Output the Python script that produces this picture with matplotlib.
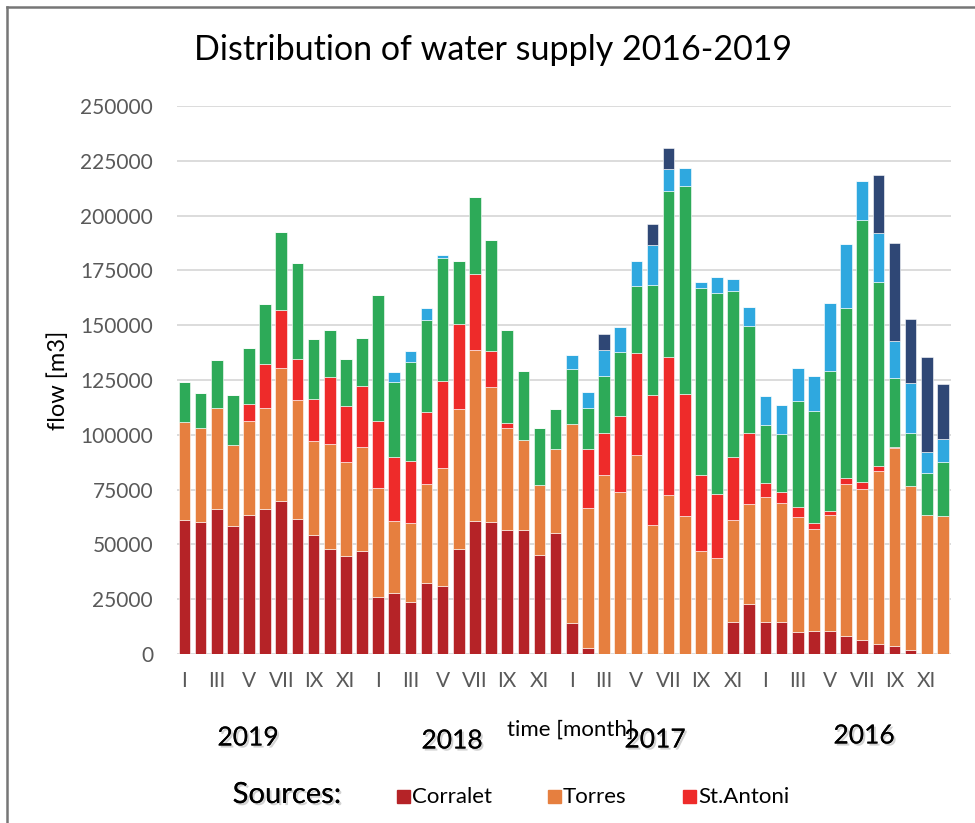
import matplotlib.pyplot as plt
import matplotlib.patheffects as pe
from matplotlib.lines import Line2D
from matplotlib.patches import Rectangle
import numpy as np

plt.rcParams['font.family'] = ['Lato', 'DejaVu Sans']

years = ['2019', '2018', '2017', '2016']
months = ['I', 'II', 'III', 'IV', 'V', 'VI', 'VII', 'VIII', 'IX', 'X', 'XI', 'XII']

# monthly flow per source [m3], years in plotted order 2019, 2018, 2017, 2016
corralet = [61000, 60000, 66000, 58300, 63200, 66000, 70000, 61400, 54100, 47700, 44700, 47100,
            26100, 28000, 23600, 32600, 31100, 47700, 60900, 60400, 56400, 56400, 45000, 55400,
            14200, 2800, 0, 0, 0, 0, 0, 0, 0, 0, 14700, 22800,
            14400, 14400, 10200, 10500, 10600, 8100, 6500, 4400, 3800, 1700, 0, 0]
torres = [45000, 43000, 46100, 37100, 43300, 46400, 60600, 54500, 42900, 48200, 42700, 47400,
          49500, 32900, 36200, 44800, 53700, 64000, 77700, 61600, 46600, 41300, 32300, 38200,
          90800, 63900, 81600, 74100, 90800, 58700, 72500, 63100, 47100, 43900, 46500, 45800,
          57300, 54600, 52400, 46700, 52900, 69300, 68700, 78900, 90000, 74900, 63400, 63100]
st_antoni = [0, 0, 0, 0, 7400, 19700, 26400, 18900, 19400, 30300, 25800, 27800,
             30800, 28900, 28100, 33200, 39700, 38700, 34900, 16300, 2400, 0, 0, 0,
             0, 26700, 19400, 34300, 46300, 59600, 63200, 55700, 34500, 29100, 28900, 32000,
             6300, 5000, 4400, 2500, 1900, 3000, 3100, 2400, 700, 0, 0, 0]
source4 = [18000, 16200, 22000, 22800, 25900, 27700, 35300, 43500, 27500, 21700, 21500, 21900,
           57200, 34400, 45100, 41700, 56100, 28700, 35100, 50600, 42200, 31200, 26000, 18200,
           25100, 18600, 25600, 29200, 30900, 50200, 75300, 94900, 85500, 91900, 75600, 49200,
           26400, 26300, 48400, 51100, 63600, 77400, 119600, 84200, 31200, 24000, 19000, 24500]
source5 = [0, 0, 0, 0, 0, 0, 0, 0, 0, 0, 0, 0,
           0, 4400, 5200, 5600, 1200, 0, 0, 0, 0, 0, 0, 0,
           6400, 7400, 12300, 11500, 11200, 18100, 10200, 7800, 2500, 7100, 5200, 8700,
           13200, 13200, 15200, 16100, 31100, 29200, 17900, 22200, 17200, 23000, 9900, 10600]
source6 = [0, 0, 0, 0, 0, 0, 0, 0, 0, 0, 0, 0,
           0, 0, 0, 0, 0, 0, 0, 0, 0, 0, 0, 0,
           0, 0, 7000, 0, 0, 9400, 9800, 0, 0, 0, 0, 0,
           0, 0, 0, 0, 0, 0, 0, 26600, 44700, 29200, 43300, 24800]

series = [corralet, torres, st_antoni, source4, source5, source6]
colors = ['#B52327', '#E67F3F', '#EE2B2A', '#2DAA58', '#2FA8DF', '#2F4775']

fig = plt.figure(figsize=(9.75, 8.23), dpi=100)
ax = fig.add_axes([176.7 / 975, 1 - 654 / 823, 774 / 975, 548 / 823])

x = np.arange(len(corralet))
bottom = np.zeros(len(corralet))
for s, c in zip(series, colors):
    ax.bar(x, s, width=0.72, bottom=bottom, color=c, edgecolor='white', linewidth=0.4, zorder=3)
    bottom += np.array(s)

ax.set_xlim(-0.48, 47.48)
ax.set_ylim(0, 250000)
ax.set_yticks(range(0, 250001, 25000))
ax.set_yticklabels([str(v) for v in range(0, 250001, 25000)])
ax.set_xticks(x[::2])
ax.set_xticklabels(months[::2] * 4)
ax.grid(axis='y', color='#D9D9D9', linewidth=1.3, zorder=0)
for sp in ax.spines.values():
    sp.set_visible(False)
ax.tick_params(axis='both', length=0, colors='#595959', labelsize=15)
ax.tick_params(axis='y', pad=17)
ax.tick_params(axis='x', pad=12)
ax.set_ylabel('flow [m3]', fontsize=17, color='black', labelpad=8)

fig.text(0.506, 1 - 50 / 823, 'Distribution of water supply 2016-2019', ha='center', va='center',
         fontsize=24.5, color='black')

shadow = [pe.withSimplePatchShadow(offset=(1.5, -1.5), alpha=0.35, shadow_rgbFace='gray'), pe.Normal()]
year_x = [248, 452, 655, 864]
year_y = [738, 741, 740, 736]
for yr, xx, yy in zip(years, year_x, year_y):
    fig.text(xx / 975, 1 - yy / 823, yr, ha='center', va='center', fontsize=19,
             color='black', path_effects=shadow)
fig.text(570 / 975, 1 - 730 / 823, 'time [month]', ha='center', va='center', fontsize=16, color='black')

fig.text(287 / 975, 1 - 795 / 823, 'Sources:', ha='center', va='center', fontsize=21,
         color='black', path_effects=shadow)
leg_names = ['Corralet', 'Torres', 'St.Antoni']
leg_x = [397, 548, 683]
for name, c, lx in zip(leg_names, colors[:3], leg_x):
    fig.patches.append(Rectangle((lx / 975, 1 - 803 / 823), 13 / 975, 13 / 823,
                                 transform=fig.transFigure, color=c))
    fig.text((lx + 15) / 975, 1 - 797 / 823, name, ha='left', va='center', fontsize=16, color='black')

# chart frame, cut off at right and bottom
fig.lines.append(Line2D([7 / 975, 7 / 975], [-0.1, 1 - 7 / 823], transform=fig.transFigure,
                        color='#767676', linewidth=1.8))
fig.lines.append(Line2D([7 / 975, 1.1], [1 - 7 / 823, 1 - 7 / 823], transform=fig.transFigure,
                        color='#767676', linewidth=1.8))

fig.savefig('out.png', dpi=100)
